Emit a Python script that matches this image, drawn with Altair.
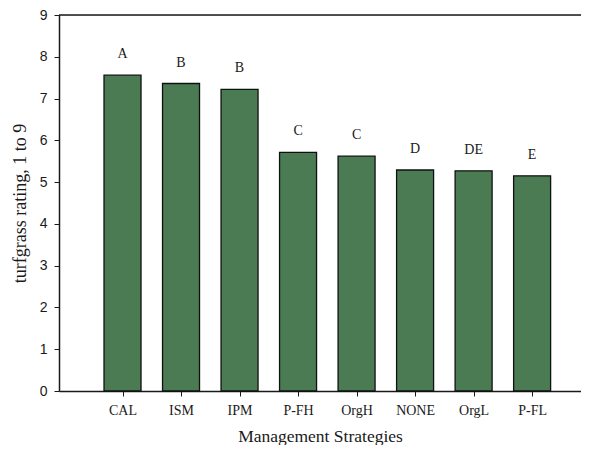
import altair as alt
import pandas as pd

categories = ["CAL", "ISM", "IPM", "P-FH", "OrgH", "NONE", "OrgL", "P-FL"]
ratings = [7.56, 7.36, 7.22, 5.71, 5.62, 5.29, 5.27, 5.15]
letters = ["A", "B", "B", "C", "C", "D", "DE", "E"]
positions = [1, 2, 3, 4, 5, 6, 7, 8]
y_ticks = [0, 1, 2, 3, 4, 5, 6, 7, 8, 9]

df = pd.DataFrame({"pos": positions, "cat": categories, "rating": ratings, "letter": letters})

label_expr = "[" + ",".join("'" + c + "'" for c in categories) + "][datum.value - 1]"

PLOT_W = 522
PLOT_H = 376

x_enc = alt.X(
    "pos:Q",
    scale=alt.Scale(domain=[0, 8.75], nice=False, zero=False),
    axis=alt.Axis(
        title="Management Strategies",
        values=positions,
        labelExpr=label_expr,
        grid=False,
        tickSize=5,
        labelPadding=7,
        labelFont="Liberation Serif",
        labelFontSize=14,
        labelColor="#1a1a1a",
        titleFont="Liberation Serif",
        titleFontSize=17.5,
        titleFontWeight="normal",
        titleColor="#1a1a1a",
        titlePadding=10,
        domainColor="#1a1a1a",
        tickColor="#1a1a1a",
        domainWidth=1.5,
    ),
)

y_enc = alt.Y(
    "rating:Q",
    scale=alt.Scale(domain=[0, 9], nice=False),
    axis=alt.Axis(
        title="turfgrass rating, 1 to 9",
        values=y_ticks,
        grid=False,
        tickSize=5,
        labelPadding=7,
        labelFont="Liberation Sans",
        labelFontSize=14,
        labelColor="#1a1a1a",
        titleFont="Liberation Serif",
        titleFontSize=18,
        titleFontWeight="normal",
        titleColor="#1a1a1a",
        titlePadding=10,
        domainColor="#1a1a1a",
        tickColor="#1a1a1a",
        domainWidth=1.5,
    ),
)

bars = alt.Chart(df).mark_bar(
    size=37, color="#4B7B52", stroke="#111111", strokeWidth=1.3
).encode(x=x_enc, y=y_enc)

text = alt.Chart(df).mark_text(
    dy=-21, baseline="middle", font="Liberation Serif", fontSize=14, color="#1a1a1a"
).encode(x="pos:Q", y="rating:Q", text="letter:N")

top_line = alt.Chart(pd.DataFrame({"top": [9]})).mark_rule(
    color="#1a1a1a", strokeWidth=1.5
).encode(y="top:Q", x=alt.value(0), x2=alt.value(PLOT_W))

chart = alt.layer(bars, text, top_line).properties(
    width=PLOT_W,
    height=PLOT_H,
    autosize=alt.AutoSizeParams(type="none"),
    padding={"left": 51, "top": 7, "right": 0, "bottom": 54},
).configure_view(stroke=None).configure(background="white")

chart.save("out.html", embed_options={"renderer": "svg", "actions": False})
